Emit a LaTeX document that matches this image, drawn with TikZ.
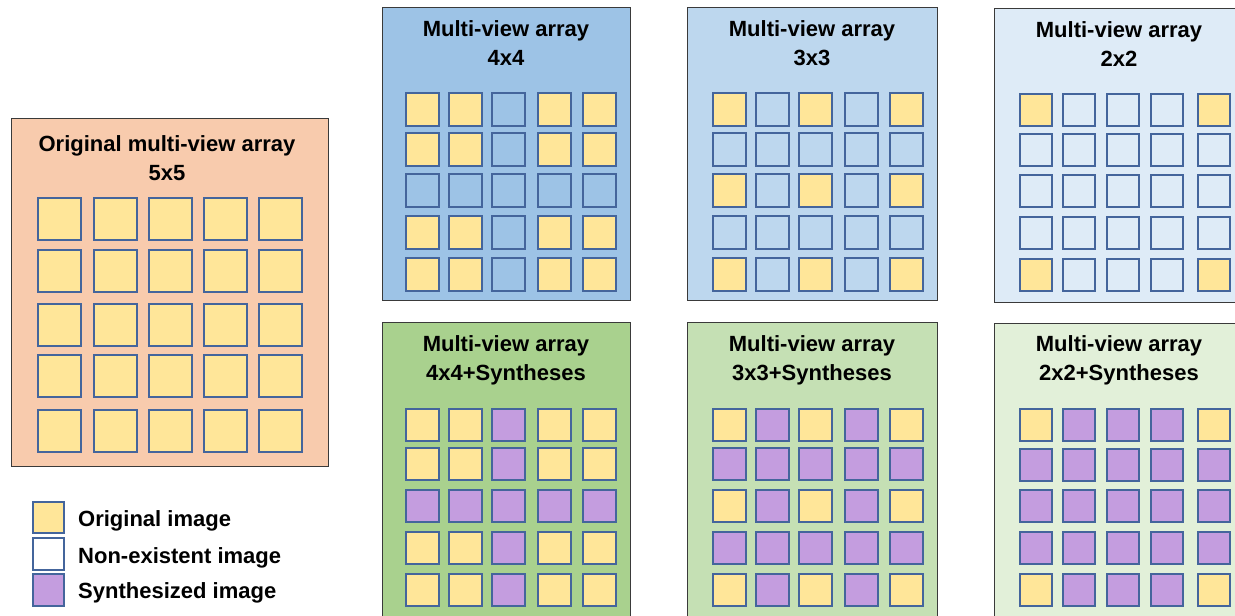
\documentclass[tikz,border=0pt]{standalone}
\usepackage{fontspec}
\setmainfont{Liberation Sans}
\definecolor{cY}{HTML}{FFE699}
\definecolor{cP}{HTML}{C49DDF}
\definecolor{sqline}{HTML}{44659C}
\definecolor{panelline}{HTML}{3A3A3A}
\definecolor{cpeach}{HTML}{F8CBAD}
\definecolor{cblueA}{HTML}{9DC3E6}
\definecolor{cblueB}{HTML}{BDD7EE}
\definecolor{cblueC}{HTML}{DEEBF7}
\definecolor{cgreenA}{HTML}{A9D18E}
\definecolor{cgreenB}{HTML}{C5E0B4}
\definecolor{cgreenC}{HTML}{E2F0D9}
% #1 name, #2 x0, #3 y0, #4 col offsets, #5 row offsets, #6 w, #7 h, #8 empty colour, #9 rows
\newcommand\mvgrid[9]{%
  \colorlet{cB}{#8}%
  \foreach \rowlist [count=\r] in {#9} {
    \foreach \t [count=\c] in \rowlist {
      \pgfmathsetmacro\xx{#2+{#4}[\c-1]}
      \pgfmathsetmacro\yy{#3+{#5}[\r-1]}
      \node[sq, fill=c\t, minimum width=#6, minimum height=#7] (#1-\r-\c) at (\xx,\yy) {};
    }
  }%
}
\begin{document}
\begin{tikzpicture}[x=1pt,y=-1pt,
  panel/.style={draw=panelline, line width=1.3pt, inner sep=0, anchor=north west},
  sq/.style={draw=sqline, line width=1.8pt, inner sep=0, anchor=north west},
  title/.style={font=\bfseries\fontsize{22}{29}\selectfont, align=center, inner sep=0, anchor=north},
  legtext/.style={font=\bfseries\fontsize{22}{26}\selectfont, inner sep=0, anchor=base west}]
\useasboundingbox (0,0) rectangle (1235,616);
\clip (0,0) rectangle (1235,616);

% panels
\node[panel, fill=cpeach, minimum width=317, minimum height=348] (orig) at (11,118) {};
\node[panel, fill=cblueA, minimum width=248, minimum height=293] (pa) at (382,7) {};
\node[panel, fill=cblueB, minimum width=250, minimum height=293] (pb) at (687,7) {};
\node[panel, fill=cblueC, minimum width=250, minimum height=294] (pc) at (994,8) {};
\node[panel, fill=cgreenA, minimum width=248, minimum height=310] (pd) at (382,322) {};
\node[panel, fill=cgreenB, minimum width=250, minimum height=310] (pe) at (687,322) {};
\node[panel, fill=cgreenC, minimum width=250, minimum height=310] (pf) at (994,323) {};

% titles
\node[title] (origt) at (167,135) {Original multi-view array\\5x5};
\node[title] (pat) at (506,20) {Multi-view array\\4x4};
\node[title] (pbt) at (812,20) {Multi-view array\\3x3};
\node[title] (pct) at (1119,21.5) {Multi-view array\\2x2};
\node[title] (pdt) at (506,335) {Multi-view array\\4x4+Syntheses};
\node[title] (pet) at (812,335) {Multi-view array\\3x3+Syntheses};
\node[title] (pft) at (1119,335.5) {Multi-view array\\2x2+Syntheses};

% grids
\mvgrid{og}{37}{197}{0,56,111,166,221}{0,52,106,157,212}{43}{42}{cpeach}
  {{Y,Y,Y,Y,Y},{Y,Y,Y,Y,Y},{Y,Y,Y,Y,Y},{Y,Y,Y,Y,Y},{Y,Y,Y,Y,Y}}
\mvgrid{ga}{405}{92}{0,43,86,132,177}{0,40,81,123,165}{33}{33}{cblueA}
  {{Y,Y,B,Y,Y},{Y,Y,B,Y,Y},{B,B,B,B,B},{Y,Y,B,Y,Y},{Y,Y,B,Y,Y}}
\mvgrid{gb}{712}{92}{0,43,86,132,177}{0,40,81,123,165}{33}{33}{cblueB}
  {{Y,B,Y,B,Y},{B,B,B,B,B},{Y,B,Y,B,Y},{B,B,B,B,B},{Y,B,Y,B,Y}}
\mvgrid{gc}{1019}{93}{0,43,87,131,178}{0,40,81,123,165}{32}{32}{cblueC}
  {{Y,B,B,B,Y},{B,B,B,B,B},{B,B,B,B,B},{B,B,B,B,B},{Y,B,B,B,Y}}
\mvgrid{gd}{405}{408}{0,43,86,132,177}{0,39,81,123,165}{33}{32}{cgreenA}
  {{Y,Y,P,Y,Y},{Y,Y,P,Y,Y},{P,P,P,P,P},{Y,Y,P,Y,Y},{Y,Y,P,Y,Y}}
\mvgrid{ge}{712}{408}{0,43,86,132,177}{0,39,81,123,165}{33}{32}{cgreenB}
  {{Y,P,Y,P,Y},{P,P,P,P,P},{Y,P,Y,P,Y},{P,P,P,P,P},{Y,P,Y,P,Y}}
\mvgrid{gf}{1019}{408}{0,43,87,131,178}{0,40,81,123,165}{32}{32}{cgreenC}
  {{Y,P,P,P,Y},{P,P,P,P,P},{P,P,P,P,P},{P,P,P,P,P},{Y,P,P,P,Y}}

% legend
\node[sq, fill=cY, minimum width=31, minimum height=31] (legY) at (32,501) {};
\node[sq, fill=white, minimum width=31, minimum height=32] (legB) at (32,537) {};
\node[sq, fill=cP, minimum width=31, minimum height=32] (legP) at (32,573) {};
\node[legtext] (legYt) at (78,526) {Original image};
\node[legtext] (legBt) at (78,563) {Non-existent image};
\node[legtext] (legPt) at (78,598) {Synthesized image};
\end{tikzpicture}
\end{document}
